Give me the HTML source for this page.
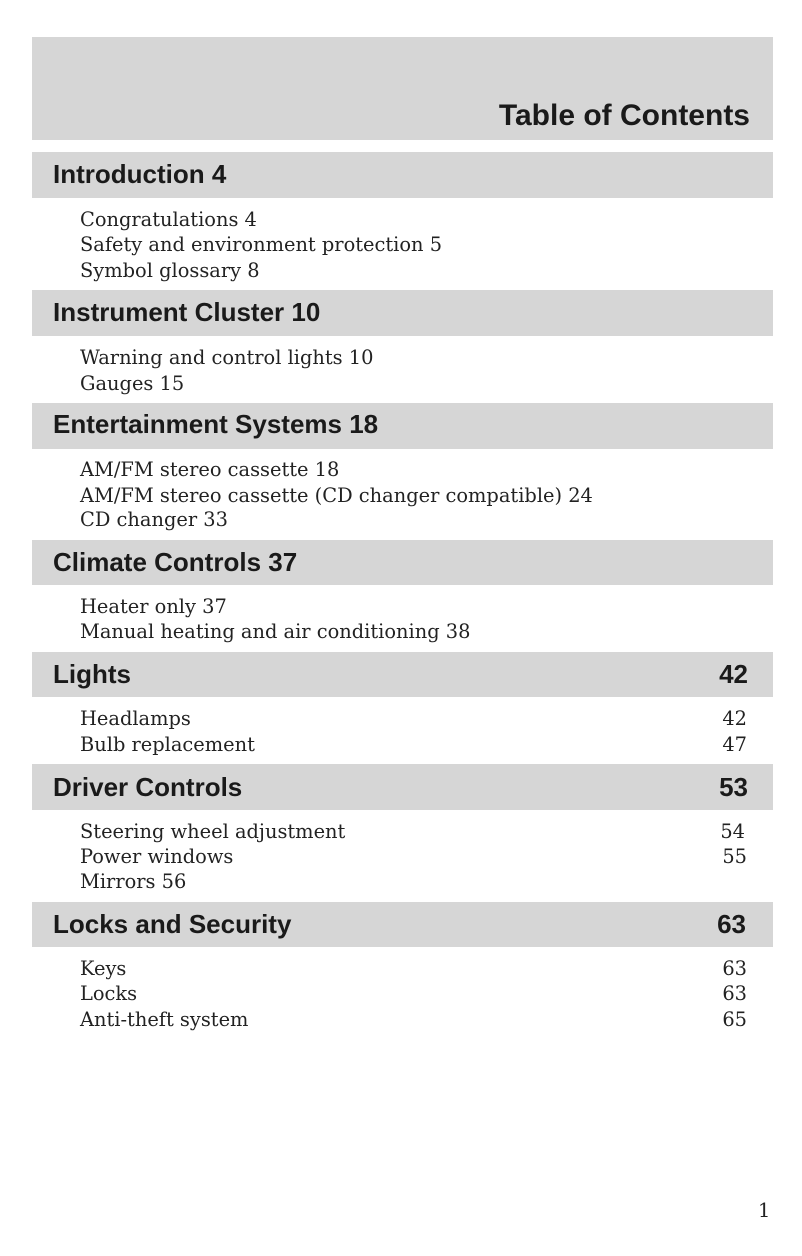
<!DOCTYPE html>
<html><head><style>
body{margin:0;width:802px;height:1256px;background:#fff;position:relative;overflow:hidden}
.box{position:absolute;left:32px;width:741px;background:#d6d6d6}
.h{position:absolute;left:53px;width:695px;font:bold 26px "Liberation Sans",sans-serif;color:#1a1a1a;height:30px;line-height:30px}
.h span{position:absolute;right:0}
.t{position:absolute;left:80px;width:667px;font:19.4px "DejaVu Serif",serif;color:#222;height:26px;line-height:26px}
.t span{position:absolute;right:0}
</style></head><body>
<div class="box" style="top:37px;height:103px"></div>
<div class="h" style="top:101px;left:auto;right:52px;width:auto;font-size:30px">Table of Contents</div>
<div class="box" style="top:152px;height:46px"></div>
<div class="h" style="top:159px">Introduction 4</div>
<div class="t" style="top:207px">Congratulations 4</div>
<div class="t" style="top:232px">Safety and environment protection 5</div>
<div class="t" style="top:258px">Symbol glossary 8</div>
<div class="box" style="top:290px;height:46px"></div>
<div class="h" style="top:297px">Instrument Cluster 10</div>
<div class="t" style="top:345px">Warning and control lights 10</div>
<div class="t" style="top:371px">Gauges 15</div>
<div class="box" style="top:403px;height:46px"></div>
<div class="h" style="top:409px">Entertainment Systems 18</div>
<div class="t" style="top:457px">AM/FM stereo cassette 18</div>
<div class="t" style="top:483px">AM/FM stereo cassette (CD changer compatible) 24</div>
<div class="t" style="top:507px">CD changer 33</div>
<div class="box" style="top:540px;height:45px"></div>
<div class="h" style="top:547px">Climate Controls 37</div>
<div class="t" style="top:594px">Heater only 37</div>
<div class="t" style="top:619px">Manual heating and air conditioning 38</div>
<div class="box" style="top:652px;height:45px"></div>
<div class="h" style="top:659px">Lights<span>42</span></div>
<div class="t" style="top:706px">Headlamps<span>42</span></div>
<div class="t" style="top:732px">Bulb replacement<span>47</span></div>
<div class="box" style="top:764px;height:46px"></div>
<div class="h" style="top:772px">Driver Controls<span>53</span></div>
<div class="t" style="top:819px">Steering wheel adjustment<span style="right:2px">54</span></div>
<div class="t" style="top:844px">Power windows<span>55</span></div>
<div class="t" style="top:869px">Mirrors 56</div>
<div class="box" style="top:902px;height:45px"></div>
<div class="h" style="top:909px">Locks and Security<span style="right:2px">63</span></div>
<div class="t" style="top:956px">Keys<span>63</span></div>
<div class="t" style="top:981px">Locks<span>63</span></div>
<div class="t" style="top:1007px">Anti-theft system<span>65</span></div>
<div class="t" style="top:1198px;left:758px;width:auto">1</div>
</body></html>
